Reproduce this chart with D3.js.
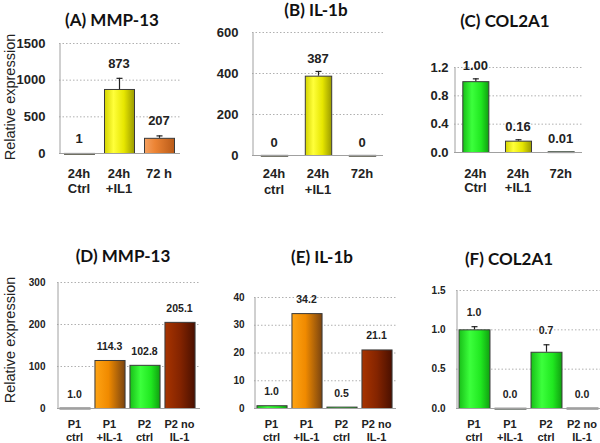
<!DOCTYPE html>
<html><head><meta charset="utf-8">
<script src="https://cdn.jsdelivr.net/npm/d3@7"></script>
<style>html,body{margin:0;padding:0;background:#fff}svg{display:block}</style>
</head><body>
<script>
// ---------- data ----------
const catsA = [["24h","Ctrl"],["24h","+IL1"],["72 h",""]];
const valsA = [1, 873, 207];
const errA = [0, 152, 33];
const lblA = ["1","873","207"];
const ticksA = [0,500,1000,1500];

const catsB = [["24h","ctrl"],["24h","+IL1"],["72h",""]];
const valsB = [0.6, 387, 0.6];
const errB = [0, 23, 0];
const lblB = ["0","387","0"];
const ticksB = [0,200,400,600];

const catsC = [["24h","Ctrl"],["24h","+IL1"],["72h",""]];
const valsC = [1.00, 0.16, 0.01];
const errC = [0.04, 0.02, 0];
const lblC = ["1.00","0.16","0.01"];
const ticksC = [0,0.4,0.8,1.2];

const catsBottom = [["P1","ctrl"],["P1","+IL-1"],["P2","ctrl"],["P2 no","IL-1"]];
const valsD = [1.0, 114.3, 102.8, 205.1];
const errD = [0,0,0,0];
const lblD = ["1.0","114.3","102.8","205.1"];
const ticksD = [0,100,200,300];

const valsE = [1.0, 34.2, 0.5, 21.1];
const errE = [0,0,0,0];
const lblE = ["1.0","34.2","0.5","21.1"];
const ticksE = [0,10,20,30,40];

const valsF = [1.0, 0.003, 0.715, 0.005];
const errF = [0.04, 0, 0.095, 0];
const lblF = ["1.0","0.0","0.7","0.0"];
const ticksF = [0,0.5,1.0,1.5];

// ---------- drawing ----------
const W = 600, H = 443;
const svg = d3.select("body").append("svg").attr("width", W).attr("height", H);
const defs = svg.append("defs");
function grad(id, stops){
  const g = defs.append("linearGradient").attr("id", id).attr("x1","0").attr("x2","1").attr("y1","0").attr("y2","0");
  stops.forEach(s => g.append("stop").attr("offset", s[0]).attr("stop-color", s[1]));
}
grad("gYel", [[0,"#d4d400"],[0.3,"#ffff3a"],[0.65,"#e6e600"],[1,"#9a9a00"]]);
grad("gOrA", [[0,"#f4a060"],[0.35,"#ec8434"],[1,"#b85a18"]]);
grad("gGrn", [[0,"#18c018"],[0.35,"#3cff3c"],[0.7,"#20e820"],[1,"#10a010"]]);
grad("gOrB", [[0,"#ffa414"],[0.45,"#f08a00"],[1,"#7a4410"]]);
grad("gRed", [[0,"#a83400"],[0.5,"#842400"],[1,"#4a1000"]]);

const AR = "'Liberation Sans', Arial, sans-serif";
const TITLE = "Lato, 'Open Sans', sans-serif";

function panel(o){
  const g = svg.append("g");
  const x = d3.scaleBand().domain(d3.range(o.vals.length)).range(o.xr).paddingInner(o.pad).paddingOuter(o.pad/2);
  const y = d3.scaleLinear().domain([0, o.ticks[o.ticks.length-1]]).range(o.yr);
  // grid
  g.selectAll(".grid").data(o.ticks.slice(1)).join("line")
    .attr("x1", o.xr[0]).attr("x2", o.gridEnd)
    .attr("y1", d => y(d)+0.5).attr("y2", d => y(d)+0.5)
    .attr("stroke", "#b0b0b0").attr("stroke-width", 1).attr("stroke-dasharray", "1.5,2");
  // y axis
  const ax = d3.axisLeft(y).tickValues(o.ticks).tickSize(0).tickPadding(o.tp).tickFormat(o.fmt);
  const ag = g.append("g").attr("transform", `translate(${o.xr[0]+0.5},0)`).call(ax);
  ag.select(".domain").attr("stroke", "#a0a0a0");
  ag.selectAll("text").attr("font-family", AR).attr("font-weight", "bold").attr("font-size", o.tfs).attr("fill", "#222");
  // bars
  g.selectAll(".bar").data(o.vals).join("rect")
    .attr("x", (d,i) => x(i)+0.5).attr("width", x.bandwidth())
    .attr("y", d => y(d)+0.5).attr("height", d => Math.max(0.8, y(0)-y(d)))
    .attr("fill", (d,i) => `url(#${o.fills[i]})`).attr("stroke", "#3a3a3a").attr("stroke-width", 1);
  // baseline
  g.append("line").attr("x1", o.xr[0]).attr("x2", o.gridEnd).attr("y1", y(0)+0.5).attr("y2", y(0)+0.5)
    .attr("stroke", "#a0a0a0");
  // error bars
  o.errs.forEach((e,i) => {
    if (!e) return;
    const cx = x(i) + x.bandwidth()/2 + 0.5;
    g.append("line").attr("x1", cx).attr("x2", cx).attr("y1", y(o.vals[i])).attr("y2", y(o.vals[i]+e)).attr("stroke", "#222").attr("stroke-width", 1.2);
    g.append("line").attr("x1", cx-3).attr("x2", cx+3).attr("y1", y(o.vals[i]+e)+0.5).attr("y2", y(o.vals[i]+e)+0.5).attr("stroke", "#222").attr("stroke-width", 1.2);
  });
  // value labels
  g.selectAll(".vl").data(o.vals).join("text")
    .attr("x", (d,i) => x(i) + x.bandwidth()/2)
    .attr("y", (d,i) => y(d + o.errs[i]) - o.voff)
    .attr("text-anchor", "middle").attr("font-family", AR).attr("font-weight", "bold")
    .attr("font-size", o.vfs).attr("fill", "#222").text((d,i) => o.lbls[i]);
  // category labels
  o.cats.forEach((c,i) => {
    c.forEach((t,j) => {
      g.append("text").attr("x", x(i) + x.bandwidth()/2).attr("y", o.cy[j])
        .attr("text-anchor", "middle").attr("font-family", AR).attr("font-weight", "bold")
        .attr("font-size", o.cfs).attr("fill", "#222").text(t);
    });
  });
  // title
  g.append("text").attr("x", o.title[1]).attr("y", o.title[2]).attr("text-anchor", "middle")
    .attr("font-family", TITLE).attr("font-weight", "bold").attr("font-size", 17).attr("fill", "#111").text(o.title[0]);
}

const fmtInt = d3.format("d"), fmt1 = d3.format(".1f");
panel({vals: valsA, errs: errA, lbls: lblA, cats: catsA, ticks: ticksA, fmt: fmtInt,
  xr: [59,179], pad: 0.25, yr: [153,43], gridEnd: 180, tp: 14, tfs: 13, vfs: 13, voff: 10, cfs: 13,
  cy: [178,193], fills: ["gYel","gYel","gOrA"], title: ["(A) MMP-13", 112, 26]});
panel({vals: valsB, errs: errB, lbls: lblB, cats: catsB, ticks: ticksB, fmt: fmtInt,
  xr: [252,384], pad: 0.4, yr: [155,32], gridEnd: 383, tp: 14, tfs: 13, vfs: 13, voff: 8, cfs: 13,
  cy: [178,194], fills: ["gYel","gYel","gYel"], title: ["(B) IL-1b", 316, 16]});
panel({vals: valsC, errs: errC, lbls: lblC, cats: catsC, ticks: ticksC, fmt: fmt1,
  xr: [454,582], pad: 0.39, yr: [152,67], gridEnd: 582, tp: 6, tfs: 13, vfs: 13, voff: 8, cfs: 13,
  cy: [178,192], fills: ["gGrn","gYel","gGrn"], title: ["(C) COL2A1", 505, 27]});
panel({vals: valsD, errs: errD, lbls: lblD, cats: catsBottom, ticks: ticksD, fmt: fmtInt,
  xr: [57,197], pad: 0.14, yr: [408,282], gridEnd: 200, tp: 12, tfs: 10, vfs: 10.5, voff: 10, cfs: 11,
  cy: [428,441], fills: ["gGrn","gOrB","gGrn","gRed"], title: ["(D) MMP-13", 123, 262]});
panel({vals: valsE, errs: errE, lbls: lblE, cats: catsBottom, ticks: ticksE, fmt: fmtInt,
  xr: [254,394], pad: 0.14, yr: [408,297], gridEnd: 396, tp: 10, tfs: 10, vfs: 10.5, voff: 10, cfs: 11,
  cy: [428,441], fills: ["gGrn","gOrB","gGrn","gRed"], title: ["(E) IL-1b", 322, 263]});
panel({vals: valsF, errs: errF, lbls: lblF, cats: catsBottom, ticks: ticksF, fmt: fmt1,
  xr: [456,600], pad: 0.14, yr: [408,290], gridEnd: 600, tp: 11, tfs: 10, vfs: 10.5, voff: 10, cfs: 11,
  cy: [428,441], fills: ["gGrn","gGrn","gGrn","gGrn"], title: ["(F) COL2A1", 509, 265]});

// y axis titles
[[97],[340]].forEach(p => {
  svg.append("text").attr("transform", `translate(15,${p[0]}) rotate(-90)`).attr("text-anchor", "middle")
    .attr("font-family", AR).attr("font-size", 14.5).attr("fill", "#222").text("Relative expression");
});
</script>
</body></html>
